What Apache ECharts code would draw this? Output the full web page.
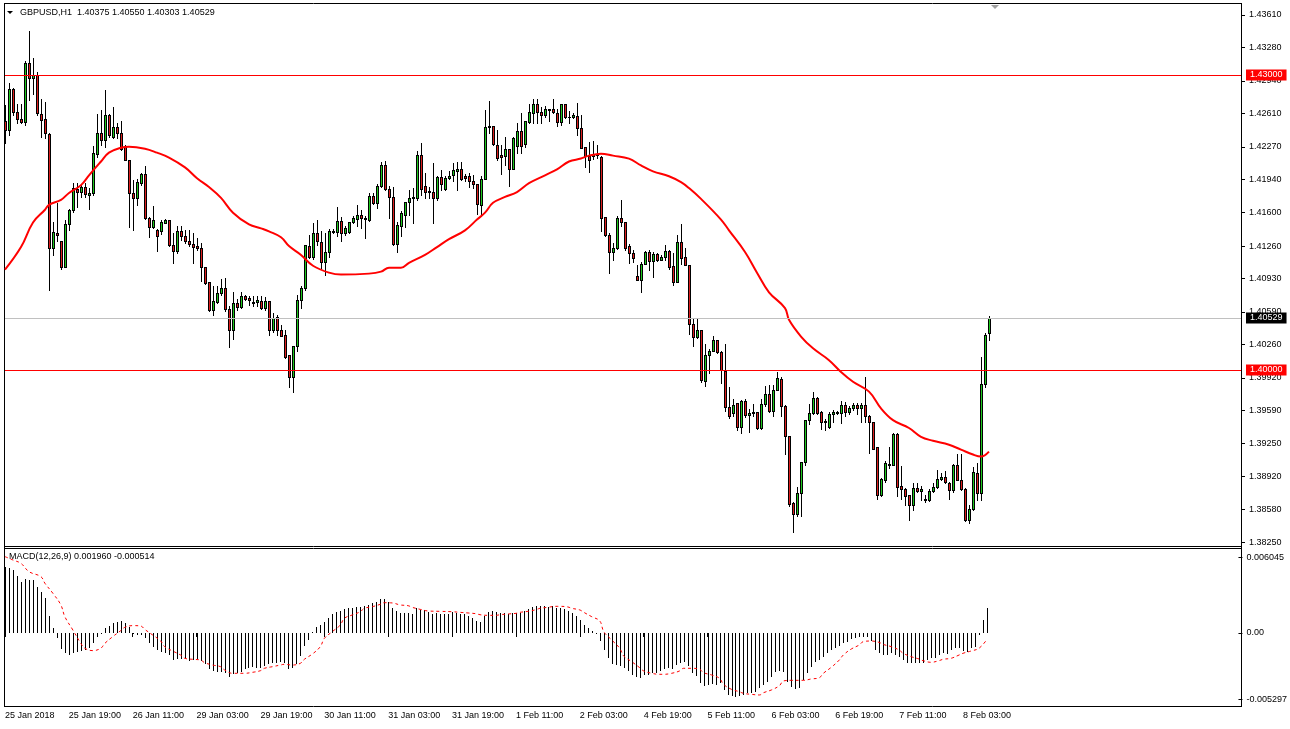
<!DOCTYPE html>
<html><head><meta charset="utf-8">
<script src="https://cdn.jsdelivr.net/npm/echarts@6/dist/echarts.min.js"></script>
<style>html,body{margin:0;padding:0;background:#fff;overflow:hidden}#c{width:1290px;height:729px}</style>
</head><body><div id="c"></div>
<script>
const symbolTitle = 'GBPUSD,H1';
const lastOHLC = ['1.40375', '1.40550', '1.40303', '1.40529'];
const macdTitle = 'MACD(12,26,9)';
const macdLastText = ['0.001960', '-0.000514'];
const timeLabels = ['25 Jan 2018','25 Jan 19:00','26 Jan 11:00','29 Jan 03:00','29 Jan 19:00','30 Jan 11:00','31 Jan 03:00','31 Jan 19:00','1 Feb 11:00','2 Feb 03:00','4 Feb 19:00','5 Feb 11:00','6 Feb 03:00','6 Feb 19:00','7 Feb 11:00','8 Feb 03:00'];
const barsPerLabel = 16;
const emptySlots = 63;
const priceTicks = [1.43610,1.43280,1.42940,1.42610,1.42270,1.41940,1.41600,1.41260,1.40930,1.40590,1.40260,1.39920,1.39590,1.39250,1.38920,1.38580,1.38250];
const macdTicks = [0.006045, 0, -0.005297];
const redLevels = [1.43000, 1.40000];
const currentPrice = 1.40529;

// [open, close, low, high]
const ohlc = [
[1.4253,1.4244,1.4231,1.4269],[1.4244,1.4286,1.4239,1.4292],[1.4286,1.4262,1.4259,1.4287],[1.4262,1.4255,1.4251,1.4270],[1.4255,1.4252,1.4251,1.4270],
[1.4252,1.4312,1.4249,1.4314],[1.4312,1.4297,1.4275,1.4345],[1.4297,1.4300,1.4281,1.4317],[1.4300,1.4261,1.4259,1.4303],[1.4260,1.4254,1.4237,1.4276],
[1.4255,1.4241,1.4236,1.4273],[1.4240,1.4124,1.4081,1.4241],[1.4124,1.4140,1.4117,1.4150],[1.4139,1.4137,1.4131,1.4170],[1.4131,1.4105,1.4103,1.4131],
[1.4105,1.4148,1.4105,1.4153],[1.4148,1.4163,1.4142,1.4164],[1.4163,1.4185,1.4161,1.4190],[1.4184,1.4181,1.4166,1.4190],[1.4181,1.4186,1.4176,1.4188],
[1.4186,1.4179,1.4176,1.4190],[1.4178,1.4180,1.4164,1.4185],[1.4180,1.4221,1.4178,1.4228],[1.4220,1.4241,1.4217,1.4260],[1.4241,1.4234,1.4229,1.4264],
[1.4234,1.4259,1.4227,1.4285],[1.4259,1.4239,1.4237,1.4260],[1.4237,1.4247,1.4236,1.4267],[1.4247,1.4241,1.4236,1.4251],[1.4241,1.4225,1.4224,1.4253],
[1.4228,1.4214,1.4214,1.4229],[1.4214,1.4180,1.4145,1.4214],[1.4180,1.4175,1.4142,1.4193],[1.4175,1.4191,1.4168,1.4194],[1.4190,1.4199,1.4188,1.4200],
[1.4199,1.4155,1.4154,1.4207],[1.4155,1.4145,1.4135,1.4156],[1.4145,1.4153,1.4144,1.4167],[1.4142,1.4136,1.4121,1.4143],[1.4141,1.4150,1.4138,1.4153],
[1.4149,1.4153,1.4149,1.4154],[1.4153,1.4127,1.4126,1.4153],[1.4127,1.4121,1.4109,1.4139],[1.4121,1.4141,1.4119,1.4146],[1.4141,1.4136,1.4132,1.4146],
[1.4136,1.4131,1.4129,1.4142],[1.4131,1.4128,1.4126,1.4142],[1.4128,1.4125,1.4109,1.4139],[1.4126,1.4124,1.4122,1.4134],[1.4124,1.4105,1.4091,1.4129],
[1.4105,1.4088,1.4087,1.4105],[1.4089,1.4061,1.4060,1.4089],[1.4061,1.4070,1.4056,1.4085],[1.4069,1.4078,1.4068,1.4085],[1.4078,1.4083,1.4076,1.4093],
[1.4083,1.4062,1.4060,1.4094],[1.4062,1.4041,1.4023,1.4065],[1.4041,1.4068,1.4032,1.4079],[1.4068,1.4064,1.4061,1.4072],[1.4064,1.4075,1.4063,1.4079],
[1.4075,1.4072,1.4071,1.4076],[1.4073,1.4071,1.4066,1.4075],[1.4069,1.4068,1.4065,1.4075],[1.4069,1.4071,1.4065,1.4075],[1.4070,1.4063,1.4062,1.4075],
[1.4063,1.4070,1.4061,1.4074],[1.4070,1.4041,1.4036,1.4070],[1.4041,1.4053,1.4039,1.4058],[1.4054,1.4041,1.4036,1.4056],[1.4041,1.4035,1.4035,1.4046],
[1.4036,1.4013,1.4012,1.4041],[1.4015,1.3993,1.3983,1.4015],[1.3993,1.4024,1.3978,1.4024],[1.4024,1.4071,1.4019,1.4076],[1.4071,1.4083,1.4063,1.4085],
[1.4083,1.4127,1.4081,1.4127],[1.4126,1.4115,1.4114,1.4137],[1.4115,1.4139,1.4113,1.4149],[1.4139,1.4131,1.4127,1.4153],[1.4130,1.4110,1.4104,1.4141],
[1.4110,1.4120,1.4097,1.4139],[1.4120,1.4141,1.4115,1.4143],[1.4140,1.4141,1.4139,1.4143],[1.4140,1.4152,1.4136,1.4166],[1.4152,1.4139,1.4131,1.4156],
[1.4139,1.4144,1.4137,1.4146],[1.4140,1.4150,1.4139,1.4150],[1.4150,1.4155,1.4149,1.4157],[1.4154,1.4158,1.4146,1.4168],[1.4158,1.4155,1.4144,1.4163],
[1.4154,1.4155,1.4134,1.4157],[1.4153,1.4177,1.4152,1.4180],[1.4177,1.4170,1.4169,1.4180],[1.4170,1.4187,1.4165,1.4189],[1.4187,1.4208,1.4186,1.4212],
[1.4208,1.4184,1.4183,1.4213],[1.4184,1.4176,1.4155,1.4187],[1.4176,1.4128,1.4127,1.4186],[1.4128,1.4147,1.4120,1.4151],[1.4146,1.4160,1.4136,1.4162],
[1.4158,1.4171,1.4145,1.4171],[1.4171,1.4175,1.4158,1.4183],[1.4175,1.4176,1.4149,1.4185],[1.4175,1.4219,1.4173,1.4223],[1.4219,1.4184,1.4178,1.4231],
[1.4187,1.4181,1.4175,1.4200],[1.4182,1.4181,1.4175,1.4186],[1.4181,1.4175,1.4149,1.4210],[1.4175,1.4196,1.4173,1.4197],[1.4196,1.4189,1.4183,1.4203],
[1.4184,1.4195,1.4183,1.4197],[1.4195,1.4197,1.4194,1.4202],[1.4198,1.4203,1.4192,1.4210],[1.4202,1.4204,1.4183,1.4212],[1.4204,1.4194,1.4193,1.4212],
[1.4197,1.4195,1.4192,1.4199],[1.4197,1.4192,1.4186,1.4200],[1.4192,1.4189,1.4185,1.4198],[1.4189,1.4169,1.4159,1.4189],[1.4168,1.4194,1.4157,1.4197],
[1.4194,1.4247,1.4194,1.4264],[1.4247,1.4248,1.4241,1.4274],[1.4248,1.4230,1.4229,1.4248],[1.4229,1.4216,1.4214,1.4244],[1.4219,1.4217,1.4199,1.4229],
[1.4218,1.4225,1.4208,1.4237],[1.4225,1.4204,1.4187,1.4225],[1.4204,1.4236,1.4204,1.4237],[1.4228,1.4243,1.4221,1.4251],[1.4243,1.4228,1.4221,1.4261],
[1.4230,1.4253,1.4227,1.4253],[1.4252,1.4262,1.4251,1.4270],[1.4261,1.4270,1.4251,1.4276],[1.4271,1.4262,1.4251,1.4276],[1.4262,1.4259,1.4251,1.4267],
[1.4259,1.4265,1.4257,1.4268],[1.4264,1.4265,1.4253,1.4265],[1.4265,1.4262,1.4261,1.4276],[1.4261,1.4252,1.4248,1.4265],[1.4252,1.4270,1.4249,1.4271],
[1.4270,1.4257,1.4256,1.4271],[1.4257,1.4257,1.4251,1.4263],[1.4257,1.4259,1.4256,1.4261],[1.4258,1.4246,1.4239,1.4272],[1.4246,1.4226,1.4226,1.4259],
[1.4227,1.4218,1.4206,1.4227],[1.4218,1.4214,1.4201,1.4232],[1.4218,1.4220,1.4215,1.4233],[1.4219,1.4220,1.4216,1.4229],[1.4217,1.4155,1.4141,1.4218],
[1.4156,1.4137,1.4136,1.4156],[1.4137,1.4120,1.4099,1.4139],[1.4120,1.4124,1.4112,1.4129],[1.4124,1.4155,1.4123,1.4157],[1.4155,1.4150,1.4146,1.4173],
[1.4150,1.4124,1.4122,1.4151],[1.4126,1.4119,1.4109,1.4128],[1.4119,1.4114,1.4110,1.4122],[1.4096,1.4092,1.4092,1.4107],[1.4092,1.4108,1.4079,1.4110],
[1.4108,1.4120,1.4108,1.4121],[1.4120,1.4111,1.4102,1.4122],[1.4111,1.4118,1.4095,1.4120],[1.4118,1.4112,1.4111,1.4119],[1.4112,1.4115,1.4112,1.4117],
[1.4115,1.4121,1.4112,1.4127],[1.4121,1.4105,1.4103,1.4122],[1.4106,1.4089,1.4086,1.4119],[1.4089,1.4130,1.4089,1.4137],[1.4130,1.4114,1.4108,1.4148],
[1.4115,1.4107,1.4107,1.4124],[1.4107,1.4047,1.4037,1.4107],[1.4047,1.4034,1.4024,1.4053],[1.4034,1.4041,1.4033,1.4053],[1.4041,1.3990,1.3988,1.4041],
[1.3989,1.4015,1.3984,1.4026],[1.4015,1.4019,1.3997,1.4021],[1.4019,1.4031,1.4019,1.4035],[1.4031,1.4018,1.4017,1.4031],[1.4018,1.4000,1.3987,1.4019],
[1.3999,1.3962,1.3958,1.4026],[1.3962,1.3953,1.3951,1.3983],[1.3956,1.3964,1.3953,1.3970],[1.3966,1.3942,1.3939,1.3966],[1.3942,1.3968,1.3936,1.3969],
[1.3968,1.3954,1.3952,1.3971],[1.3954,1.3956,1.3937,1.3960],[1.3956,1.3957,1.3953,1.3965],[1.3957,1.3941,1.3940,1.3957],[1.3941,1.3965,1.3940,1.3971],
[1.3965,1.3976,1.3963,1.3984],[1.3976,1.3958,1.3957,1.3985],[1.3958,1.3980,1.3953,1.3985],[1.3980,1.3992,1.3980,1.3998],[1.3991,1.3963,1.3953,1.3993],
[1.3963,1.3933,1.3915,1.3964],[1.3933,1.3864,1.3862,1.3933],[1.3865,1.3854,1.3835,1.3866],[1.3854,1.3875,1.3852,1.3881],[1.3875,1.3906,1.3852,1.3906],
[1.3906,1.3949,1.3903,1.3949],[1.3949,1.3956,1.3945,1.3965],[1.3956,1.3972,1.3955,1.3978],[1.3972,1.3956,1.3955,1.3973],[1.3957,1.3947,1.3940,1.3958],
[1.3948,1.3947,1.3939,1.3950],[1.3942,1.3955,1.3941,1.3957],[1.3955,1.3957,1.3947,1.3959],[1.3957,1.3956,1.3955,1.3958],[1.3956,1.3964,1.3946,1.3968],
[1.3964,1.3957,1.3953,1.3967],[1.3957,1.3961,1.3955,1.3963],[1.3961,1.3964,1.3959,1.3966],[1.3964,1.3961,1.3955,1.3966],[1.3961,1.3964,1.3947,1.3966],
[1.3964,1.3953,1.3947,1.3993],[1.3953,1.3947,1.3916,1.3954],[1.3947,1.3920,1.3920,1.3947],[1.3922,1.3873,1.3869,1.3922],[1.3873,1.3889,1.3872,1.3890],
[1.3888,1.3905,1.3886,1.3907],[1.3903,1.3904,1.3900,1.3922],[1.3903,1.3935,1.3903,1.3936],[1.3935,1.3881,1.3872,1.3936],[1.3882,1.3879,1.3869,1.3902],
[1.3879,1.3872,1.3863,1.3880],[1.3873,1.3863,1.3847,1.3873],[1.3863,1.3880,1.3858,1.3885],[1.3880,1.3877,1.3876,1.3885],[1.3877,1.3879,1.3868,1.3882],
[1.3868,1.3869,1.3866,1.3873],[1.3868,1.3877,1.3867,1.3879],[1.3877,1.3881,1.3876,1.3885],[1.3881,1.3889,1.3880,1.3898],[1.3889,1.3891,1.3888,1.3895],
[1.3891,1.3886,1.3885,1.3897],[1.3885,1.3878,1.3869,1.3886],[1.3878,1.3903,1.3876,1.3904],[1.3903,1.3888,1.3888,1.3915],[1.3888,1.3879,1.3878,1.3915],
[1.3879,1.3847,1.3846,1.3880],[1.3847,1.3859,1.3844,1.3863],[1.3859,1.3896,1.3858,1.3901],[1.3895,1.3875,1.3868,1.3905],[1.3875,1.3986,1.3868,1.4013],
[1.3986,1.4036,1.3983,1.4038],[1.40375,1.40529,1.40303,1.40550]
];

// moving average read at sampled bars: [bar, value]
const movingAverage = [
[0,1.4102],[4,1.4125],[7,1.4150],[10,1.4163],[11,1.4168],[14,1.4173],[16,1.4180],[19,1.4188],[21,1.4198],[24,1.4212],
[26,1.4221],[29,1.4226],[31,1.4227],[35,1.4225],[38,1.4221],[41,1.4216],[45,1.4206],[48,1.4195],[51,1.4186],[54,1.4175],
[57,1.4160],[61,1.4148],[64,1.4144],[66,1.4141],[69,1.4135],[71,1.4126],[74,1.4117],[77,1.4106],[81,1.4099],[84,1.4097],
[91,1.4098],[94,1.4100],[96,1.4104],[99,1.4104],[101,1.4109],[105,1.4117],[108,1.4125],[111,1.4133],[115,1.4142],[118,1.4153],
[120,1.4160],[122,1.4170],[125,1.4176],[128,1.4181],[131,1.4190],[135,1.4198],[138,1.4204],[141,1.4212],[144,1.4215],[146,1.4218],
[149,1.4220],[152,1.4218],[156,1.4215],[159,1.4208],[162,1.4202],[166,1.4197],[169,1.4191],[171,1.4185],[174,1.4174],[179,1.4153],
[181,1.4142],[185,1.4120],[188,1.4099],[191,1.4079],[195,1.4063],[196,1.4051],[199,1.4034],[202,1.4022],[206,1.4010],[209,1.3998],
[212,1.3988],[216,1.3978],[219,1.3961],[222,1.3949],[226,1.3941],[229,1.3932],[232,1.3928],[236,1.3924],[239,1.3919],[242,1.3914],
[244,1.3912],[246,1.3917]
];

const macdMain = [
0.00530,0.00516,0.00503,0.00458,0.00405,0.00429,0.00423,0.00423,0.00370,0.00330,
0.00282,0.00136,0.00037,-0.00037,-0.00130,-0.00162,-0.00176,-0.00162,-0.00149,-0.00144,
-0.00136,-0.00122,-0.00083,-0.00029,0.00003,0.00037,0.00056,0.00077,0.00091,0.00096,
0.00083,0.00045,0.00002,-0.00016,-0.00016,-0.00043,-0.00083,-0.00109,-0.00136,-0.00154,
-0.00162,-0.00176,-0.00216,-0.00210,-0.00208,-0.00210,-0.00221,-0.00216,-0.00210,-0.00221,
-0.00248,-0.00290,-0.00301,-0.00309,-0.00309,-0.00317,-0.00349,-0.00327,-0.00322,-0.00309,
-0.00290,-0.00282,-0.00269,-0.00277,-0.00282,-0.00261,-0.00248,-0.00242,-0.00237,-0.00234,
-0.00237,-0.00290,-0.00282,-0.00248,-0.00184,-0.00104,-0.00056,0.00011,0.00045,0.00064,
0.00091,0.00117,0.00152,0.00170,0.00178,0.00189,0.00197,0.00202,0.00210,0.00205,
0.00216,0.00224,0.00237,0.00250,0.00272,0.00269,0.00250,0.00197,0.00176,0.00162,
0.00160,0.00160,0.00152,0.00197,0.00186,0.00181,0.00170,0.00152,0.00160,0.00152,
0.00152,0.00152,0.00165,0.00162,0.00152,0.00149,0.00138,0.00122,0.00098,0.00091,
0.00138,0.00168,0.00178,0.00168,0.00162,0.00160,0.00149,0.00157,0.00162,0.00162,
0.00176,0.00192,0.00205,0.00216,0.00216,0.00216,0.00208,0.00216,0.00197,0.00197,
0.00192,0.00178,0.00157,0.00138,0.00104,0.00064,0.00043,0.00016,-0.00002,-0.00064,
-0.00136,-0.00197,-0.00248,-0.00256,-0.00264,-0.00277,-0.00303,-0.00335,-0.00354,-0.00357,
-0.00335,-0.00335,-0.00322,-0.00317,-0.00303,-0.00290,-0.00282,-0.00290,-0.00256,-0.00242,
-0.00229,-0.00264,-0.00317,-0.00343,-0.00397,-0.00421,-0.00415,-0.00410,-0.00415,-0.00402,
-0.00455,-0.00495,-0.00500,-0.00514,-0.00503,-0.00495,-0.00482,-0.00477,-0.00469,-0.00442,
-0.00415,-0.00389,-0.00354,-0.00309,-0.00303,-0.00309,-0.00389,-0.00429,-0.00450,-0.00437,
-0.00375,-0.00322,-0.00269,-0.00229,-0.00216,-0.00189,-0.00162,-0.00136,-0.00117,-0.00104,
-0.00083,-0.00069,-0.00051,-0.00043,-0.00035,-0.00035,-0.00035,-0.00064,-0.00136,-0.00157,
-0.00176,-0.00176,-0.00162,-0.00176,-0.00189,-0.00216,-0.00237,-0.00237,-0.00237,-0.00237,
-0.00237,-0.00216,-0.00202,-0.00197,-0.00176,-0.00162,-0.00170,-0.00136,-0.00122,-0.00122,
-0.00144,-0.00149,-0.00122,-0.00109,-0.00016,0.00104,0.00196
];

// signal line read at sampled bars: [bar, value]
const macdSignal = [
[0,0.00610],[2,0.00583],[4,0.00556],[6,0.00490],[9,0.00450],[10,0.00397],[12,0.00317],[14,0.00224],[15,0.00130],[17,0.00024],
[19,-0.00083],[20,-0.00122],[22,-0.00141],[24,-0.00122],[25,-0.00083],[27,-0.00029],[29,0.00019],[30,0.00045],[32,0.00059],[34,0.00056],
[35,0.00029],[37,-0.00016],[39,-0.00064],[40,-0.00109],[42,-0.00144],[44,-0.00176],[45,-0.00202],[47,-0.00210],[49,-0.00216],[50,-0.00237],
[52,-0.00256],[54,-0.00269],[55,-0.00295],[57,-0.00322],[60,-0.00322],[62,-0.00314],[64,-0.00301],[65,-0.00282],[67,-0.00269],[69,-0.00256],
[70,-0.00250],[72,-0.00256],[74,-0.00242],[75,-0.00210],[77,-0.00168],[79,-0.00109],[80,-0.00043],[82,0.00011],[84,0.00064],[85,0.00117],
[87,0.00144],[89,0.00170],[90,0.00197],[92,0.00210],[94,0.00229],[95,0.00242],[97,0.00240],[99,0.00224],[101,0.00218],[102,0.00205],
[104,0.00189],[106,0.00176],[109,0.00173],[112,0.00170],[114,0.00165],[116,0.00160],[118,0.00154],[119,0.00146],[121,0.00141],[123,0.00141],
[124,0.00146],[126,0.00152],[128,0.00157],[129,0.00165],[131,0.00173],[133,0.00186],[134,0.00197],[136,0.00205],[138,0.00213],[139,0.00213],
[141,0.00208],[142,0.00197],[144,0.00184],[145,0.00165],[147,0.00130],[149,0.00096],[150,0.00011],
[152,-0.00056],[154,-0.00122],[155,-0.00184],[157,-0.00229],[159,-0.00277],[160,-0.00303],[162,-0.00322],[164,-0.00330],[165,-0.00330],[167,-0.00322],
[169,-0.00303],[170,-0.00282],[172,-0.00282],[174,-0.00290],[175,-0.00317],[177,-0.00335],[179,-0.00362],[180,-0.00410],[182,-0.00450],[184,-0.00469],
[185,-0.00482],[187,-0.00490],[189,-0.00495],[190,-0.00477],[192,-0.00455],[194,-0.00421],[195,-0.00383],[197,-0.00378],[200,-0.00378],[202,-0.00367],
[204,-0.00357],[205,-0.00322],[207,-0.00274],[209,-0.00216],[210,-0.00176],[212,-0.00128],[214,-0.00096],[215,-0.00069],[217,-0.00064],[219,-0.00075],
[220,-0.00091],[222,-0.00109],[224,-0.00136],[225,-0.00162],[227,-0.00189],[229,-0.00208],[230,-0.00221],[232,-0.00234],[234,-0.00221],[235,-0.00210],
[237,-0.00202],[239,-0.00176],[240,-0.00162],[242,-0.00144],[244,-0.00122],[246,-0.00051]
];

const UP = '#1ec81e', DOWN = '#dc1e1e';
const FONT = '"Liberation Sans", Arial, sans-serif';

const categories = Array.from({length: ohlc.length + emptySlots}, (_, i) => String(i));
const candleData = ohlc.map((d, i) => [i, d[0], d[1], d[2], d[3]]);
const histData = macdMain.map((v, i) => [i, v]);

function candleItem(params, api) {
  const idx = api.value(0);
  const o = api.value(1), c = api.value(2), l = api.value(3), h = api.value(4);
  const x = Math.round(api.coord([idx, o])[0]);
  const yo = Math.round(api.coord([idx, o])[1]);
  const yc = Math.round(api.coord([idx, c])[1]);
  const yl = Math.round(api.coord([idx, l])[1]);
  const yh = Math.round(api.coord([idx, h])[1]);
  const top = Math.min(yo, yc), bot = Math.max(yo, yc);
  const fill = c > o ? UP : DOWN;
  const kids = [
    {type: 'rect', shape: {x: x, y: yh, width: 1, height: Math.max(1, yl - yh + 1)}, style: {fill: '#000'}},
    {type: 'rect', shape: {x: x - 1, y: top, width: 3, height: bot - top + 1}, style: {fill: '#000'}}
  ];
  if (bot - top >= 2) kids.push({type: 'rect', shape: {x: x, y: top + 1, width: 1, height: bot - top - 1}, style: {fill: fill}});
  return {type: 'group', children: kids};
}

function histItem(params, api) {
  const idx = api.value(0), v = api.value(1);
  const p0 = api.coord([idx, 0]), p1 = api.coord([idx, v]);
  const x = Math.round(p0[0]);
  const y0 = Math.round(p0[1]), y1 = Math.round(p1[1]);
  return {type: 'rect', shape: {x: x, y: Math.min(y0, y1), width: 1, height: Math.max(1, Math.abs(y1 - y0))}, style: {fill: '#000'}};
}

const chart = echarts.init(document.getElementById('c'), null, {renderer: 'canvas'});
const labelInterval = (index) => index % barsPerLabel === 0 && index / barsPerLabel < timeLabels.length;

const tagLabel = (bg) => ({show: true, position: 'end', distance: 5, backgroundColor: bg, color: '#fff', fontSize: 9, fontFamily: FONT, padding: [1, 4, 0, 4], lineHeight: 10, formatter: p => Number(p.value).toFixed(5)});

const option = {
  animation: false,
  backgroundColor: '#ffffff',
  grid: [
    {left: 5, right: 49, top: 4, height: 542},
    {left: 5, right: 49, top: 548, height: 158}
  ],
  xAxis: [
    {type: 'category', gridIndex: 0, data: categories, boundaryGap: false, show: false},
    {type: 'category', gridIndex: 1, data: categories, boundaryGap: false,
     axisLine: {show: false},
     axisTick: {show: true, length: 4, interval: labelInterval, lineStyle: {color: '#000'}},
     axisLabel: {show: true, interval: labelInterval, align: 'left', margin: 5, color: '#000', fontSize: 9, fontFamily: FONT,
       formatter: (v, i) => timeLabels[Math.round(Number(v) / barsPerLabel)] || ''},
     splitLine: {show: false}}
  ],
  yAxis: [
    {type: 'value', gridIndex: 0, position: 'right', min: 1.38210, max: 1.43722,
     axisLine: {show: false}, splitLine: {show: false},
     axisTick: {show: true, length: 4, customValues: priceTicks, lineStyle: {color: '#000'}},
     axisLabel: {show: true, customValues: priceTicks, margin: 8, color: '#000', fontSize: 9, fontFamily: FONT, formatter: v => Number(v).toFixed(5)}},
    {type: 'value', gridIndex: 1, position: 'right', min: -0.005831, max: 0.006789,
     axisLine: {show: false}, splitLine: {show: false},
     axisTick: {show: true, length: 4, customValues: macdTicks, lineStyle: {color: '#000'}},
     axisLabel: {show: true, customValues: macdTicks, margin: 8, color: '#000', fontSize: 9, fontFamily: FONT,
       formatter: v => (Math.abs(v) < 1e-9 ? '0.00' : Number(v).toFixed(6))}}
  ],
  series: [
    {type: 'custom', name: 'price', xAxisIndex: 0, yAxisIndex: 0, renderItem: candleItem, data: candleData,
     encode: {x: 0, y: [1, 2, 3, 4]}, z: 3, silent: true},
    {type: 'line', name: 'ma', xAxisIndex: 0, yAxisIndex: 0, data: movingAverage, smooth: 0.4, showSymbol: false, silent: true,
     lineStyle: {color: '#ff0000', width: 2}, z: 4,
     markLine: {symbol: 'none', silent: true, animation: false, precision: 5, z: 5,
       data: [
         {yAxis: redLevels[0], lineStyle: {color: '#ff0000', width: 1, type: 'solid'}, label: tagLabel('#ff0000')},
         {yAxis: redLevels[1], lineStyle: {color: '#ff0000', width: 1, type: 'solid'}, label: tagLabel('#ff0000')},
         {yAxis: currentPrice, lineStyle: {color: '#c0c0c0', width: 1, type: 'solid'}, label: tagLabel('#000000')}
       ]}},
    {type: 'custom', name: 'macd', xAxisIndex: 1, yAxisIndex: 1, renderItem: histItem, data: histData, encode: {x: 0, y: 1}, silent: true, z: 3},
    {type: 'line', name: 'signal', xAxisIndex: 1, yAxisIndex: 1, data: macdSignal, smooth: 0.4, showSymbol: false, silent: true,
     lineStyle: {color: '#ff0000', width: 1, type: [3, 3]}, z: 4}
  ],
  graphic: [
    {type: 'line', silent: true, shape: {x1: 4.5, y1: 3, x2: 4.5, y2: 707}, style: {stroke: '#000', lineWidth: 1}},
    {type: 'line', silent: true, shape: {x1: 4, y1: 3.5, x2: 1242, y2: 3.5}, style: {stroke: '#000', lineWidth: 1}},
    {type: 'line', silent: true, shape: {x1: 1241.5, y1: 3, x2: 1241.5, y2: 707}, style: {stroke: '#000', lineWidth: 1}},
    {type: 'line', silent: true, shape: {x1: 4, y1: 546.5, x2: 1242, y2: 546.5}, style: {stroke: '#000', lineWidth: 1}},
    {type: 'line', silent: true, shape: {x1: 4, y1: 548.5, x2: 1242, y2: 548.5}, style: {stroke: '#000', lineWidth: 1}},
    {type: 'line', silent: true, shape: {x1: 4, y1: 706.5, x2: 1242, y2: 706.5}, style: {stroke: '#000', lineWidth: 1}},
    {type: 'polygon', silent: true, shape: {points: [[7, 11], [13, 11], [10, 14]]}, style: {fill: '#000'}},
    {type: 'polygon', silent: true, shape: {points: [[991, 5], [999, 5], [995, 9]]}, style: {fill: '#a0a0a0'}},
    {type: 'text', silent: true, left: 20, top: 8, style: {text: symbolTitle + '  ' + lastOHLC.join(' '), font: '9px ' + FONT, fill: '#000'}},
    {type: 'text', silent: true, left: 9, top: 552, style: {text: macdTitle + ' ' + macdLastText.join(' '), font: '9px ' + FONT, fill: '#000'}}
  ]
};
chart.setOption(option);
</script>
</body></html>
